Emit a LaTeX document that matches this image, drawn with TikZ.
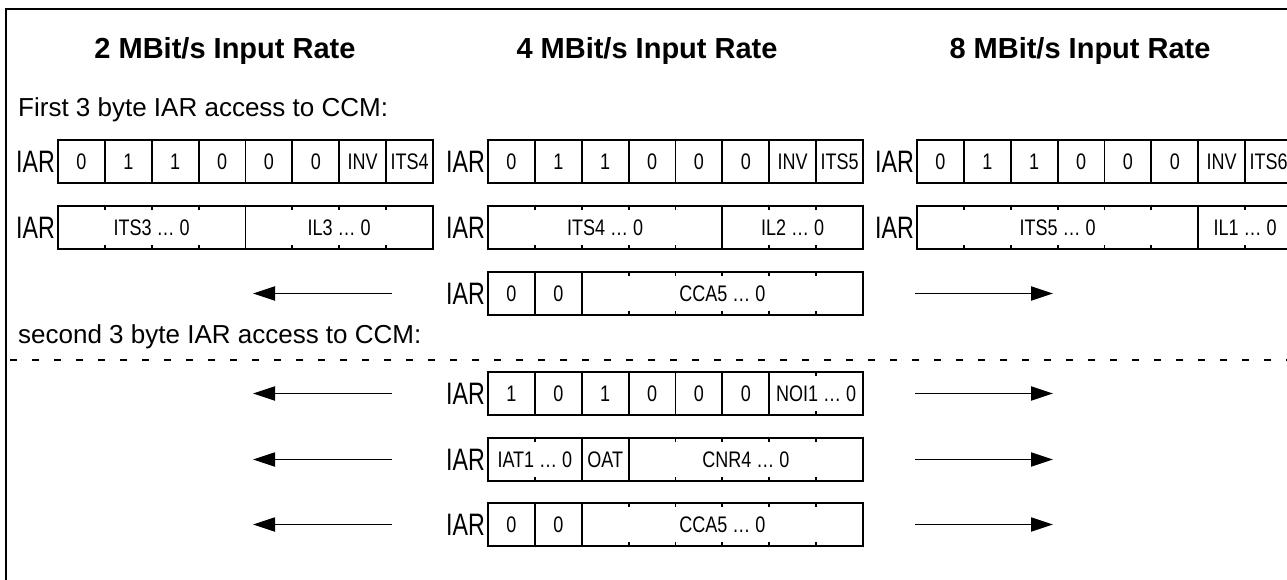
\documentclass[tikz,border=0pt]{standalone}
\usepackage{fontspec}
\setmainfont{Liberation Sans}
\newfontfamily\narrowfont{Liberation Sans}[FakeStretch=0.8]
\newfontfamily\iarfont{Liberation Sans}[FakeStretch=0.75]
\usetikzlibrary{arrows.meta,positioning,calc}

\newcommand{\cellw}{46.875}
% one IAR register: name, north west corner, fields start/end/text
\newcommand{\regrow}[3]{%
  \node[regbox] (#1) at (#2) {};
  \node[iarlabel,left=3pt of #1] (#1-iar) {IAR};
  \foreach \k in {1,...,7}{
    \draw[tick] ($(#1.north west)+(\k*\cellw,0)$) -- ++(0,4);
    \draw[tick] ($(#1.south west)+(\k*\cellw,0)$) -- ++(0,-4);
  }
  \foreach \fs/\fe/\ftxt in {#3}{
    \draw[tick] ($(#1.north west)+(\fs*\cellw,0)$) -- ($(#1.south west)+(\fs*\cellw,0)$);
    \node[field] at ($(#1.west)+({(\fs+\fe)*\cellw/2},0)$) {\ftxt};
  }%
}

\begin{document}
\begin{tikzpicture}[
  x=1pt,y=-1pt,
  regbox/.style={draw,line width=1.8pt,anchor=north west,minimum width=375pt,
    minimum height=43pt,inner sep=0pt,outer sep=0pt},
  tick/.style={line width=1.8pt},
  iarlabel/.style={inner sep=0pt,font={\iarfont\fontsize{31}{36}\selectfont}},
  field/.style={inner sep=0pt,font={\narrowfont\fontsize{22.5}{27}\selectfont}},
  title/.style={anchor=base,font={\fontsize{29}{34}\selectfont\bfseries}},
  section/.style={anchor=base west,inner sep=0pt,font={\fontsize{26}{31}\selectfont}},
  flow/.style={-{Triangle[length=22pt,width=14pt]},line width=1.8pt}
]
  \useasboundingbox (0,0) rectangle (1287,580);
  \draw[line width=1.8pt] (6,580) -- (6,9) -- (1287,9);

  % Headings for the three input rates
  \node[title] (rate2) at (225,59) {2 MBit/s Input Rate};
  \node[title] (rate4) at (647,59) {4 MBit/s Input Rate};
  \node[title] (rate8) at (1080,59) {8 MBit/s Input Rate};

  % First access
  \node[section] (first) at (18,117) {First 3 byte IAR access to CCM:};
  \regrow{twoA}{58,140}{0/1/0,1/2/1,2/3/1,3/4/0,4/5/0,5/6/0,6/7/INV,7/8/ITS4}
  \regrow{twoB}{58,206}{0/4/ITS3 … 0,4/8/IL3 … 0}
  \regrow{fourA}{488,140}{0/1/0,1/2/1,2/3/1,3/4/0,4/5/0,5/6/0,6/7/INV,7/8/ITS5}
  \regrow{fourB}{488,206}{0/5/ITS4 … 0,5/8/IL2 … 0}
  \regrow{fourC}{488,272}{0/1/0,1/2/0,2/8/CCA5 … 0}
  \regrow{eightA}{917,140}{0/1/0,1/2/1,2/3/1,3/4/0,4/5/0,5/6/0,6/7/INV,7/8/ITS6}
  \regrow{eightB}{917,206}{0/6/ITS5 … 0,6/8/IL1 … 0}

  % Second access
  \node[section] (second) at (18,343) {second 3 byte IAR access to CCM:};
  \draw[line width=2.2pt,dash pattern=on 7pt off 15pt] (10,360) -- (1287,360);
  \regrow{secA}{488,372}{0/1/1,1/2/0,2/3/1,3/4/0,4/5/0,5/6/0,6/8/NOI1 … 0}
  \regrow{secB}{488,438}{0/2/IAT1 … 0,2/3/OAT,3/8/CNR4 … 0}
  \regrow{secC}{488,503}{0/1/0,1/2/0,2/8/CCA5 … 0}

  % Same register for the other rates
  \foreach \r in {fourC,secA,secB,secC}{
    \coordinate[left=96pt of \r] (\r-lt);
    \coordinate[left=235pt of \r] (\r-lh);
    \coordinate[right=52pt of \r] (\r-rt);
    \coordinate[right=190pt of \r] (\r-rh);
    \draw[flow] (\r-lt) -- (\r-lh);
    \draw[flow] (\r-rt) -- (\r-rh);
  }
\end{tikzpicture}
\end{document}
